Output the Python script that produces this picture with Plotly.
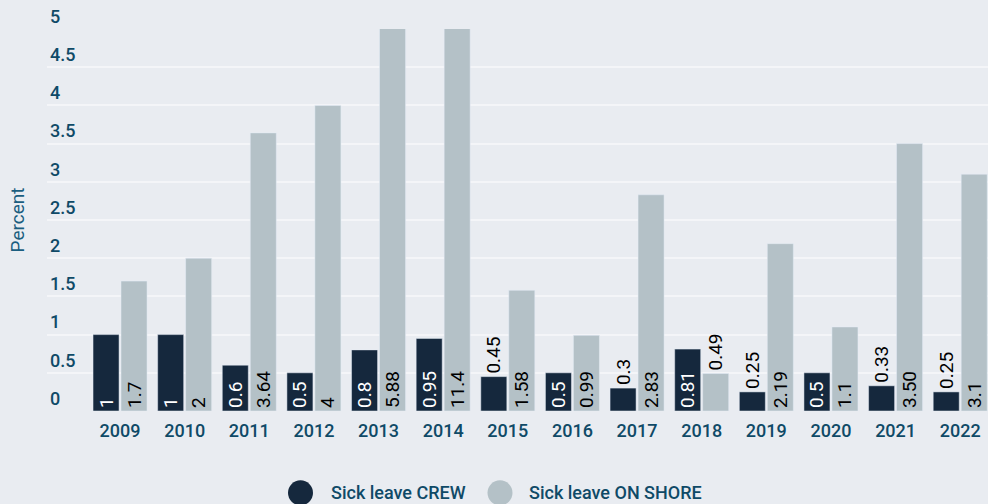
import plotly.graph_objects as go

years = ["2009", "2010", "2011", "2012", "2013", "2014", "2015", "2016",
         "2017", "2018", "2019", "2020", "2021", "2022"]
crew = [1, 1, 0.6, 0.5, 0.8, 0.95, 0.45, 0.5, 0.3, 0.81, 0.25, 0.5, 0.33, 0.25]
crew_labels = ["1", "1", "0.6", "0.5", "0.8", "0.95", "0.45", "0.5", "0.3",
               "0.81", "0.25", "0.5", "0.33", "0.25"]
onshore = [1.7, 2, 3.64, 4, 5.88, 11.4, 1.58, 0.99, 2.83, 0.49, 2.19, 1.1, 3.50, 3.1]
onshore_labels = ["1.7", "2", "3.64", "4", "5.88", "11.4", "1.58", "0.99",
                  "2.83", "0.49", "2.19", "1.1", "3.50", "3.1"]
y_ticks = [0, 0.5, 1, 1.5, 2, 2.5, 3, 3.5, 4, 4.5, 5]
series_names = ["Sick leave CREW", "Sick leave ON SHORE"]

CREW_COLOR = "#15283d"
SHORE_COLOR = "#b4c1c7"
BG = "#e9ecf1"
TICK_COLOR = "#0f4a67"
FONT = "Roboto"

# label placement: inside the bar when it fits, else above it
crew_pos = ["inside" if v >= 0.5 else "outside" for v in crew]
shore_pos = ["inside" if v >= 0.5 else "outside" for v in onshore]

fig = go.Figure()
fig.add_trace(go.Bar(
    x=years, y=crew, name=series_names[0], marker_color=CREW_COLOR,
    text=crew_labels, texttemplate="%{text}", textposition=crew_pos,
    textangle=-90, insidetextanchor="start", constraintext="none",
    insidetextfont=dict(family=FONT, size=19, color="white"),
    outsidetextfont=dict(family=FONT, size=19, color="black"),
    cliponaxis=True,
))
fig.add_trace(go.Bar(
    x=years, y=onshore, name=series_names[1], marker_color=SHORE_COLOR,
    text=onshore_labels, texttemplate="%{text}", textposition=shore_pos,
    textangle=-90, insidetextanchor="start", constraintext="none",
    insidetextfont=dict(family=FONT, size=19, color="black"),
    outsidetextfont=dict(family=FONT, size=19, color="black"),
    cliponaxis=True,
))

# Custom legend (large circles)
W, H = 988, 504
L, T, B = 47, 29, 93.3
PH = H - T - B
legend_items = [(series_names[0], CREW_COLOR, 300.5, 329),
                (series_names[1], SHORE_COLOR, 500, 527)]
ly = -(492.5 - (H - B)) / PH
for name, col, cx, tx in legend_items:
    fig.add_shape(type="circle", xref="paper", yref="paper",
                  xsizemode="pixel", ysizemode="pixel",
                  xanchor=(cx - L) / (W - L), yanchor=ly,
                  x0=-12.5, x1=12.5, y0=-12.5, y1=12.5,
                  fillcolor=col, line_width=0)
    fig.add_annotation(text=name, xref="paper", yref="paper",
                       x=(tx - L) / (W - L), y=ly,
                       xanchor="left", yanchor="middle", showarrow=False,
                       font=dict(family=FONT, size=18, color=TICK_COLOR, weight=500))

fig.update_layout(
    width=W, height=H,
    margin=dict(l=L, r=0, t=T, b=B),
    paper_bgcolor=BG, plot_bgcolor=BG,
    barmode="group", bargap=0.134, bargroupgap=0.07,
    font=dict(family=FONT, color=TICK_COLOR),
    showlegend=False,
)
fig.update_xaxes(
    type="category", range=[-1.13, 13.43],
    showgrid=False, zeroline=False, showline=False,
    ticks="outside", ticklen=3, tickcolor="rgba(0,0,0,0)",
    tickfont=dict(family=FONT, size=18, color=TICK_COLOR, weight=500),
)
fig.update_yaxes(
    range=[0, 5], tickvals=y_ticks,
    ticktext=[("%g" % v) for v in y_ticks],
    ticklabelposition="inside top", ticklabeloverflow="allow",
    showgrid=True, gridcolor="#f4f5f8", gridwidth=2,
    zeroline=False, showline=False,
    tickfont=dict(family=FONT, size=18, color=TICK_COLOR, weight=500),
    title=dict(text="Percent", font=dict(family=FONT, size=19, color="#1b5e80"),
               standoff=20),
)

fig.write_html("out.html", config={"displayModeBar": False},
               post_script="document.body.style.margin='0';document.body.style.overflow='hidden';")
